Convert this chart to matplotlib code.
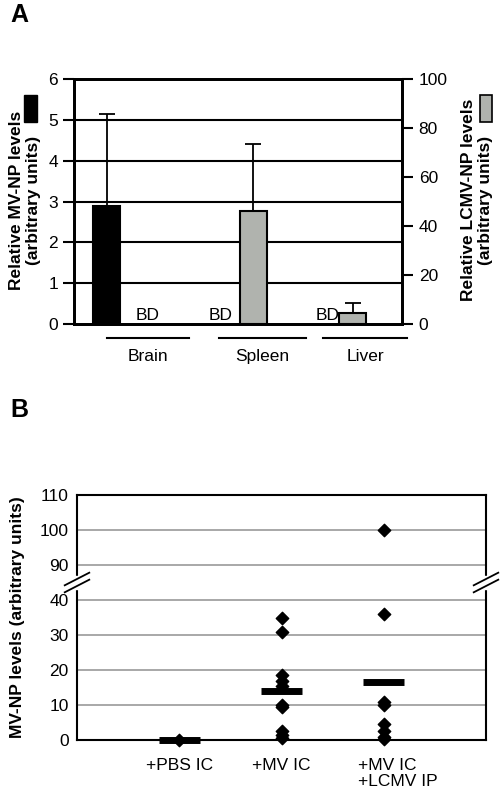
import matplotlib
matplotlib.use("Agg")
import matplotlib.pyplot as plt
from matplotlib.lines import Line2D
from matplotlib.patches import Rectangle

plt.rcParams['font.family'] = ['Liberation Sans', 'DejaVu Sans']

# Panel A data
groups = ["Brain", "Spleen", "Liver"]
mv_vals = [2.9, None, None]          # left axis (BD = below detection)
mv_err_top = [5.15, None, None]
lcmv_vals = [None, 46.0, 4.5]       # right axis
lcmv_err_top = [None, 73.5, 8.7]

# Panel B data
b_cats = ["+PBS IC", "+MV IC", "+MV IC\n+LCMV IP"]
b_points = [
    [0.0],
    [35, 31, 18.5, 17, 15.5, 10, 9.5, 2.5, 1.5, 0.5],
    [100, 36, 11, 10, 4.5, 2.5, 1, 0.3],
]
b_means = [0.0, 14.0, 16.6]
b_ticks = [0, 10, 20, 30, 40, 90, 100, 110]

W, H = 501, 800
FS = 12.5
fig = plt.figure(figsize=(W/100, H/100), dpi=100)

def box(l, t, r, b):
    return [l/W, 1-b/H, (r-l)/W, (b-t)/H]

# ---------- Panel A ----------
ax = fig.add_axes(box(74, 79, 402, 324))
ax2 = ax.twinx()
ax.set_xlim(0, 3)
ax.set_ylim(0, 6)
ax2.set_ylim(0, 100)
ax.set_yticks(range(7))
ax2.set_yticks(range(0, 101, 20))
for y in range(1, 6):
    ax.axhline(y, color='black', lw=1.5, zorder=0)
for s in ax.spines.values():
    s.set_linewidth(2)
for s in ax2.spines.values():
    s.set_linewidth(2)
ax.tick_params(axis='y', labelsize=FS, length=8, width=1.5, direction='out')
ax2.tick_params(axis='y', labelsize=FS, length=8, width=1.5, direction='out', pad=4)
ax.set_xticks([])
bw = 0.25
mv_pos = [0.3, 1.29, 2.27]
lc_pos = [0.62, 1.64, 2.55]
for i in range(3):
    if mv_vals[i] is not None:
        ax.bar(mv_pos[i], mv_vals[i], bw, color='black', edgecolor='black', lw=1.5, zorder=3)
        ax.errorbar(mv_pos[i], mv_vals[i], yerr=[[0], [mv_err_top[i]-mv_vals[i]]],
                    color='black', capsize=6, lw=1.3, capthick=1.3, zorder=4)
    else:
        ax.text(mv_pos[i]+0.05, 0.03, "BD", ha='center', va='bottom', fontsize=FS)
    if lcmv_vals[i] is not None:
        ax2.bar(lc_pos[i], lcmv_vals[i], bw, color='#b0b3ae', edgecolor='black', lw=1.5, zorder=3)
        ax2.errorbar(lc_pos[i], lcmv_vals[i], yerr=[[0], [lcmv_err_top[i]-lcmv_vals[i]]],
                     color='black', capsize=6, lw=1.3, capthick=1.3, zorder=4)
    else:
        ax.text(lc_pos[i]+0.05, 0.03, "BD", ha='center', va='bottom', fontsize=FS)

spans = [(0.3, 1.05), (1.33, 2.12), (2.28, 3.05)]
for (a, b), name in zip(spans, groups):
    fig.add_artist(Line2D([(74 + a/3*328)/W, (74 + b/3*328)/W], [1-338/H]*2, color='black', lw=1.5))
    fig.text((74 + (a+b)/2/3*328)/W, 1-356/H, name, ha='center', va='center', fontsize=FS)

fig.text(25/W, 1-200/H, "Relative MV-NP levels\n(arbitrary units)", rotation=90,
         ha='center', va='center', fontsize=FS, fontweight='bold', linespacing=1.1)
fig.text(477/W, 1-200/H, "Relative LCMV-NP levels\n(arbitrary units)", rotation=90,
         ha='center', va='center', fontsize=FS, fontweight='bold', linespacing=1.1)
fig.add_artist(Rectangle((24/W, 1-122/H), 13/W, 27/H, color='black'))
fig.add_artist(Rectangle((480/W, 1-122/H), 12/W, 27/H, facecolor='#b0b3ae', edgecolor='black', lw=1.2))
fig.text(10/W, 1-15/H, "A", fontsize=18, fontweight='bold', va='center')

# ---------- Panel B ----------
def eff(v):
    return v if v <= 40 else v - 40

bx = fig.add_axes(box(77, 495, 486, 740))
bx.set_xlim(0, 4)
bx.set_ylim(0, 70)
bx.set_yticks([eff(t) for t in b_ticks])
bx.set_yticklabels([str(t) for t in b_ticks])
bx.set_xticks([])
bx.tick_params(axis='y', labelsize=FS, length=0, pad=6)
for t in b_ticks[1:-1]:
    bx.axhline(eff(t), color='#999999', lw=1.2, zorder=0)
for s in bx.spines.values():
    s.set_linewidth(1.5)
xs = [1.0, 2.0, 3.0]
for x, pts, m in zip(xs, b_points, b_means):
    bx.scatter([x]*len(pts), [eff(p) for p in pts], marker='D', s=40, color='black', zorder=4, clip_on=False)
    bx.plot([x-0.2, x+0.2], [eff(m)]*2, color='black', lw=5, zorder=5, solid_capstyle='butt', clip_on=False)
for i, c in enumerate(b_cats):
    bx.text(xs[i] if i < 2 else xs[i]-0.25, -5, c, ha='center' if i < 2 else 'left', va='top', fontsize=FS,
            transform=bx.transData, linespacing=1.1)
# axis break marks
yb = 45.0
for xe in (0, 4):
    bx.add_patch(Rectangle((xe-0.04, yb-1.8), 0.08, 3.6, color='white', clip_on=False, zorder=6))
    for d in (-1.0, 1.0):
        bx.plot([xe-0.12, xe+0.12], [yb+d-1.8, yb+d+1.8], color='black', lw=1.3, clip_on=False, zorder=7)
fig.text(18/W, 1-617/H, "MV-NP levels (arbitrary units)", rotation=90, ha='center', va='center',
         fontsize=FS, fontweight='bold')
fig.text(10/W, 1-410/H, "B", fontsize=18, fontweight='bold', va='center')

fig.savefig("out.png", dpi=100)
